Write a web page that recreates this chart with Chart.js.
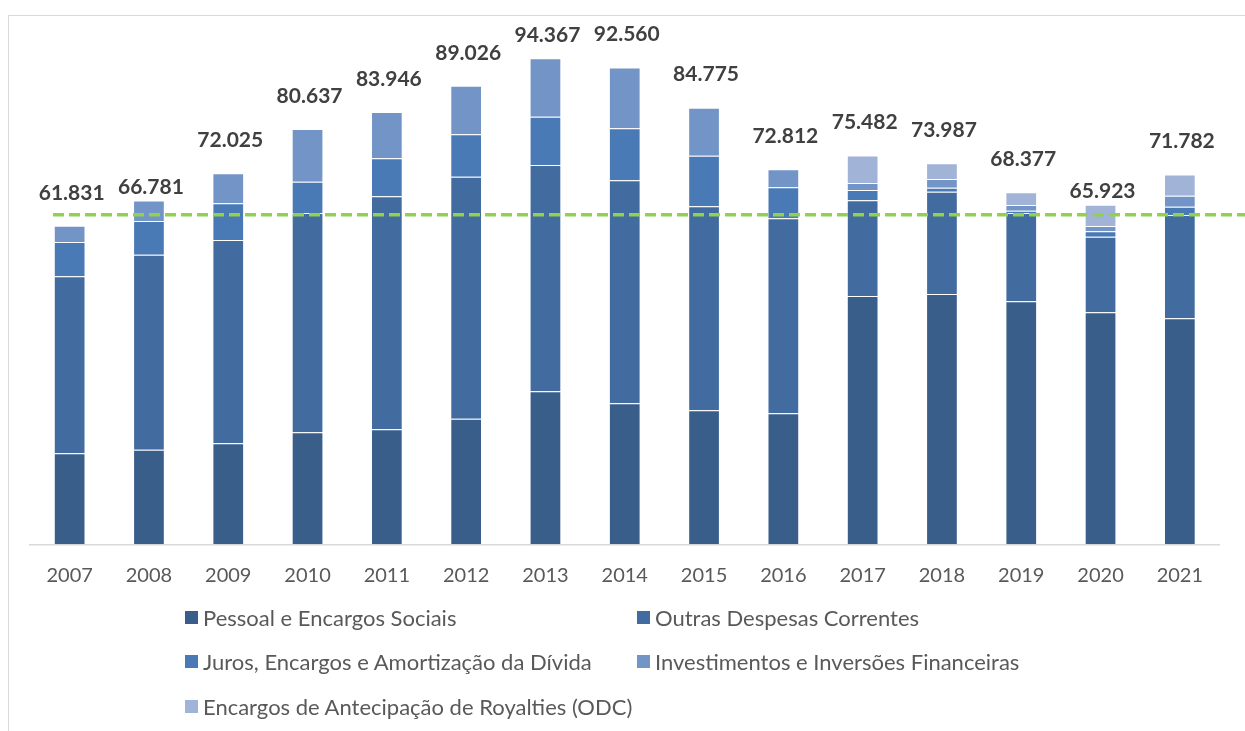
<!DOCTYPE html>
<html>
<head>
<meta charset="utf-8">
<script src="https://cdn.jsdelivr.net/npm/chart.js@4"></script>
<style>
  html, body { margin: 0; padding: 0; background: #fff; overflow: hidden; }
  body { width: 1245px; height: 731px; position: relative; font-family: 'Lato', sans-serif; }
  #frame { position: absolute; left: 8px; top: 15px; width: 1300px; height: 800px; border: 1.5px solid #d9d9d9; }
  #chartBox { position: absolute; left: 0; top: 0; width: 1245px; height: 600px; }
  #legend { position: absolute; left: 0; top: 0; width: 1245px; height: 731px; pointer-events: none; }
  .legend-item { position: absolute; display: flex; align-items: center; height: 26px; color: #595959; font-size: 22px; white-space: nowrap; }
  .legend-item span.box { width: 13px; height: 13px; margin-right: 5px; display: inline-block; }
</style>
</head>
<body>
<div id="frame"></div>
<div id="chartBox"><canvas id="despesas" width="1245" height="600"></canvas></div>
<div id="legend"></div>
<script>
const years = ['2007', '2008', '2009', '2010', '2011', '2012', '2013', '2014', '2015', '2016', '2017', '2018', '2019', '2020', '2021'];

const pessoal = [17670, 18370, 19610, 21750, 22330, 24390, 29710, 27380, 26020, 25440, 48210, 48600, 47180, 45050, 43880];
const outras = [34370, 37860, 39480, 42580, 45240, 46990, 43940, 43300, 39610, 37860, 18580, 19860, 17150, 14680, 20060];
const juros = [6660, 6540, 7130, 6080, 7380, 8230, 9380, 10100, 9830, 6020, 2000, 780, 430, 1050, 1610];
const investimentos = [3131, 4011, 5805, 10227, 8996, 9416, 11337, 11780, 9315, 3492, 1360, 1670, 1100, 1030, 2140];
const royalties = [null, null, null, null, null, null, null, null, null, null, 5332, 3077, 2517, 4113, 4092];

const totals = [61831, 66781, 72025, 80637, 83946, 89026, 94367, 92560, 84775, 72812, 75482, 73987, 68377, 65923, 71782];

const referenceLine = 64000;

const seriesNames = [
    'Pessoal e Encargos Sociais',
    'Outras Despesas Correntes',
    'Juros, Encargos e Amortização da Dívida',
    'Investimentos e Inversões Financeiras',
    'Encargos de Antecipação de Royalties (ODC)'
];
const seriesColors = ['#3A5E8A', '#426CA0', '#4A7AB5', '#7394C6', '#A1B3D6'];
const seriesData = [pessoal, outras, juros, investimentos, royalties];

function formatBR(v) {
    return String(v).replace(/\B(?=(\d{3})+(?!\d))/g, '.');
}

// dashed green reference line, drawn over the bars
const refLinePlugin = {
    id: 'refLine',
    afterDatasetsDraw(chart) {
        const ctx = chart.ctx;
        const y = chart.scales.y.getPixelForValue(referenceLine);
        ctx.save();
        ctx.strokeStyle = '#92D050';
        ctx.lineWidth = 3.5;
        ctx.setLineDash([11, 5]);
        ctx.beginPath();
        ctx.moveTo(53, y);
        ctx.lineTo(chart.width, y);
        ctx.stroke();
        ctx.restore();
    }
};

// total labels above each column (a few are nudged like in the original)
const labelLift = { 1: 13, 6: 23, 13: 14 };
const totalsPlugin = {
    id: 'totals',
    afterDraw(chart) {
        const ctx = chart.ctx;
        const meta = chart.getDatasetMeta(0);
        ctx.save();
        ctx.font = 'bold 21px Lato';
        ctx.fillStyle = '#404040';
        ctx.textAlign = 'center';
        ctx.textBaseline = 'middle';
        totals.forEach((t, i) => {
            const x = meta.data[i].x + 2;
            const top = chart.scales.y.getPixelForValue(t);
            const lift = labelLift[i] !== undefined ? labelLift[i] : 33;
            ctx.fillText(formatBR(t), x, top - lift);
        });
        ctx.restore();
    }
};

const ctx = document.getElementById('despesas').getContext('2d');

const myChart = new Chart(ctx, {
    type: 'bar',
    data: {
        labels: years,
        datasets: seriesNames.map((name, k) => ({
            label: name,
            data: seriesData[k],
            backgroundColor: seriesColors[k],
            borderColor: 'rgba(255,255,255,0.22)',
            borderWidth: 1,
            barPercentage: 0.4,
            categoryPercentage: 1.0
        }))
    },
    options: {
        responsive: false,
        animation: false,
        layout: {
            padding: { left: 30, right: 25.5, top: 29.3, bottom: 0 }
        },
        plugins: {
            legend: { display: false },
            tooltip: { enabled: false }
        },
        scales: {
            x: {
                stacked: true,
                grid: { display: false, drawTicks: false },
                border: { color: '#d9d9d9', width: 1.5 },
                ticks: {
                    color: '#595959',
                    font: { family: 'Lato', size: 20 },
                    padding: 19,
                    maxRotation: 0
                },
                afterFit(scale) { scale.height = 55.7; }
            },
            y: {
                stacked: true,
                display: false,
                min: 0,
                max: 100000
            }
        }
    },
    plugins: [refLinePlugin, totalsPlugin]
});

// legend in two columns, like the original
const legendBox = document.getElementById('legend');
const legendPos = [
    { x: 185, y: 617 }, { x: 637, y: 617 },
    { x: 185, y: 661.5 }, { x: 637, y: 661.5 },
    { x: 185, y: 706 }
];
myChart.data.datasets.forEach((ds, k) => {
    const item = document.createElement('div');
    item.className = 'legend-item';
    item.style.left = legendPos[k].x + 'px';
    item.style.top = (legendPos[k].y - 13) + 'px';
    item.innerHTML = `<span class='box' style='background:${ds.backgroundColor}'></span>${ds.label}`;
    legendBox.appendChild(item);
});
</script>
</body>
</html>
